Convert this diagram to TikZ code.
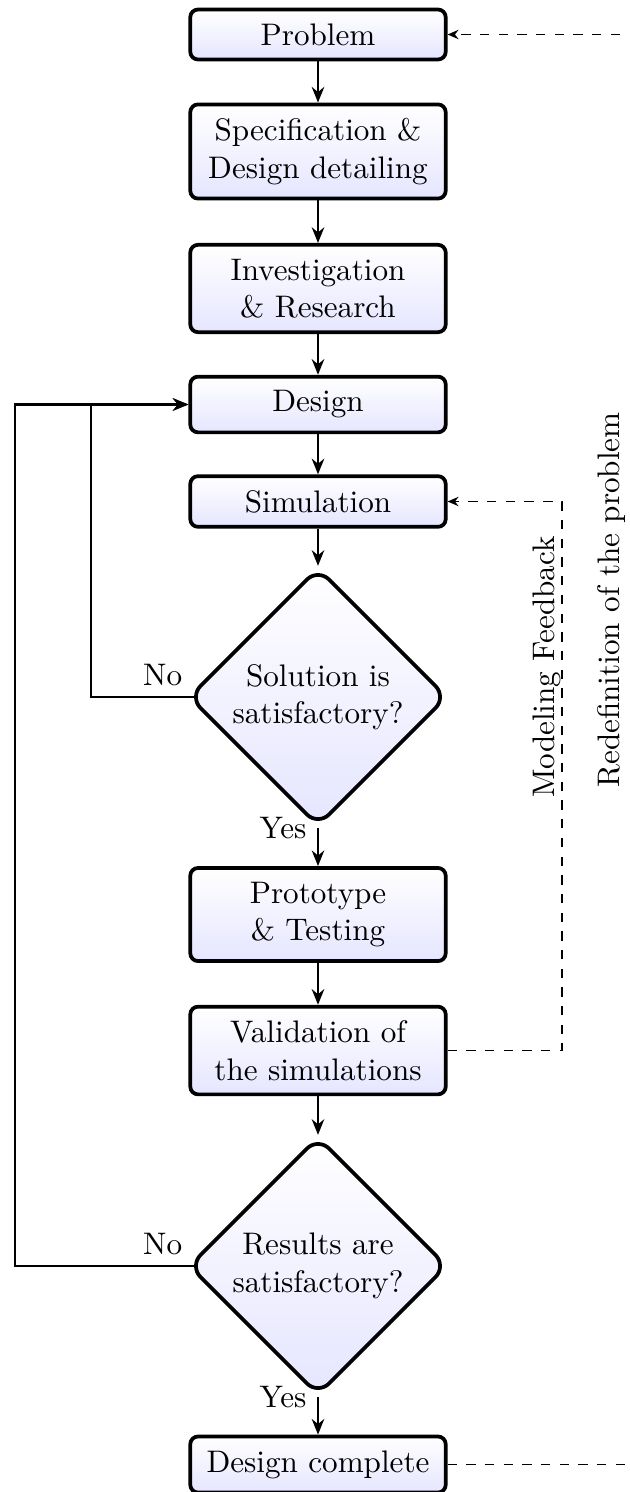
\documentclass[tikz,border=0pt]{standalone}
\usetikzlibrary{shapes.geometric,arrows.meta,backgrounds}
\begin{document}
\begin{tikzpicture}[x=0.321pt,y=-0.321pt,
  box/.style={draw, very thick, rounded corners=2.5pt, top color=white, bottom color=blue!10,
    text width=73pt, align=center, inner xsep=4.5pt, inner ysep=4.5pt},
  dec/.style={draw, very thick, diamond, aspect=1, rounded corners=5pt, top color=white,
    bottom color=blue!10, minimum width=83pt, minimum height=83pt, align=center, inner sep=0pt},
  flow/.style={thick, -{Stealth[length=5pt,width=4pt]}},
  fb/.style={semithick, dashed, -{Stealth[length=3.5pt,width=3pt]}},
  lbl/.style={inner sep=3.33pt}]
\clip (0,0) rectangle (630,1492);
\node[box] (prob) at (318,34.5) {Problem};
\node[box] (spec) at (318,151.5) {Specification \&\\ Design detailing};
\node[box] (inv) at (318,288.5) {Investigation\\ \& Research};
\node[box] (design) at (318,404.5) {Design};
\node[box] (sim) at (318,501.5) {Simulation};
\node[dec] (dec1) at (318,697) {Solution is\\ satisfactory?};
\node[box] (proto) at (318,914.5) {Prototype\\ \& Testing};
\node[box] (valid) at (318,1050.5) {Validation of\\ the simulations};
\node[dec] (dec2) at (318,1266) {Results are\\ satisfactory?};
\node[box] (done) at (318,1464.5) {Design complete};

\coordinate (c1) at (91,697);
\coordinate (c2) at (15,1266);
\coordinate (c3) at (562,1050.5);
\coordinate (c4) at (660,1464.5);

\draw[flow] (prob) -- (spec);
\draw[flow] (spec) -- (inv);
\draw[flow] (inv) -- (design);
\draw[flow] (design) -- (sim);
\draw[flow] (sim) -- (dec1);
\draw[flow] (dec1.south) -- node[lbl, pos=0, anchor=east] {Yes} (proto.north);
\draw[flow] (proto) -- (valid);
\draw[flow] (valid) -- (dec2);
\draw[flow] (dec2.south) -- node[lbl, pos=0, anchor=east] {Yes} (done.north);

\begin{scope}[on background layer]
\draw[flow] (dec1.center) -- (c1) |- (design.west);
\draw[flow] (dec2.center) -- (c2) |- (design.west);
\end{scope}
\node[lbl, anchor=south east] at ([xshift=2pt]dec1.west) {No};
\node[lbl, anchor=south east] at ([xshift=2pt]dec2.west) {No};

\draw[fb] (valid.east) -- (c3) |- (sim.east);
\draw[fb] (done.east) -- (c4) |- (prob.east);
\node[rotate=90, inner sep=0pt] (mf) at (547,667) {Modeling Feedback};
\node[rotate=90, inner sep=0pt] (rp) at (612,600) {Redefinition of the problem};
\end{tikzpicture}
\end{document}
